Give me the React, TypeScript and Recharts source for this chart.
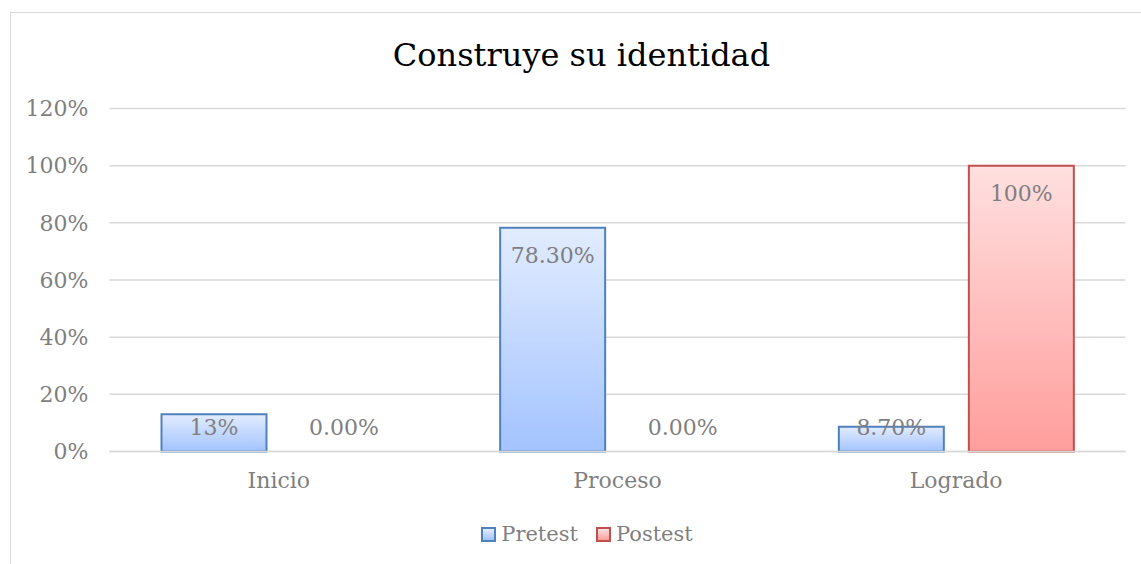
import React from 'react';
import { BarChart, Bar, XAxis, YAxis, CartesianGrid, LabelList, Rectangle } from 'recharts';

const categories = ['Inicio', 'Proceso', 'Logrado'];
const pretestValues = [0.13, 0.783, 0.087];
const postestValues = [0, 0, 1];
const pretestLabels = ['13%', '78.30%', '8.70%'];
const postestLabels = ['0.00%', '0.00%', '100%'];
const yTicks = [0, 0.2, 0.4, 0.6, 0.8, 1.0, 1.2];
const seriesNames = ['Pretest', 'Postest'];
const title = 'Construye su identidad';

const data = categories.map((c, i) => ({
  name: c,
  Pretest: pretestValues[i],
  Postest: postestValues[i],
  preLabel: pretestLabels[i],
  postLabel: postestLabels[i],
}));

const FONT = '"DejaVu Serif", "Liberation Serif", serif';
const GREY = '#7f7f7f';

const renderLabel = (props: any) => {
  const { x, y, width, height, value } = props;
  const h = Math.abs(Number(height));
  const top = Math.min(Number(y), Number(y) + Number(height));
  const base = top + h;
  const cy = Math.min(top + 28, base - 24);
  return (
    <text
      x={Number(x) + Number(width) / 2}
      y={cy}
      textAnchor="middle"
      dominantBaseline="central"
      fill={GREY}
      fontSize={22}
      fontFamily={FONT}
    >
      {value}
    </text>
  );
};

const makeShape = (key: string) => (props: any) => {
  const v = props.payload ? props.payload[key] : props.value;
  if (!v) return <g />;
  return <Rectangle {...props} />;
};

export default function App() {
  return (
    <div style={{ position: 'absolute', left: 0, top: 0, width: 1141, height: 564, background: '#fff', overflow: 'hidden' }}>
      <div style={{ position: 'absolute', left: 10, top: 12, width: 1200, height: 700, border: '1px solid #d9d9d9', boxSizing: 'border-box' }} />
      <div style={{ position: 'absolute', left: 0, top: 33, width: 1163, textAlign: 'center', fontFamily: FONT, fontSize: 32, color: '#000', lineHeight: '44px' }}>
        {title}
      </div>
      <div style={{ position: 'absolute', left: 0, top: 0 }}>
        <BarChart
          width={1141}
          height={564}
          data={data}
          margin={{ top: 108.5, right: 15.5, bottom: 72.5, left: 0 }}
          barSize={105}
          barGap={25}
        >
          <defs>
            <linearGradient id="gPre" x1="0" y1="0" x2="0" y2="1">
              <stop offset="0%" stopColor="#e2ecff" />
              <stop offset="100%" stopColor="#a3c3ff" />
            </linearGradient>
            <linearGradient id="gPost" x1="0" y1="0" x2="0" y2="1">
              <stop offset="0%" stopColor="#ffe0e0" />
              <stop offset="100%" stopColor="#ff9e9c" />
            </linearGradient>
          </defs>
          <CartesianGrid vertical={false} stroke="#d9d9d9" strokeWidth={1.5} />
          <XAxis
            dataKey="name"
            axisLine={{ stroke: '#d9d9d9', strokeWidth: 1.5 }}
            tickLine={false}
            tickSize={0}
            tickMargin={21}
            height={40}
            tick={{ fill: GREY, fontSize: 22, fontFamily: FONT }}
          />
          <YAxis
            domain={[0, 1.2]}
            ticks={yTicks}
            tickFormatter={(v: number) => `${Math.round(v * 100)}%`}
            axisLine={false}
            tickLine={false}
            tickSize={0}
            tickMargin={21}
            width={109.5}
            tick={{ fill: GREY, fontSize: 22, fontFamily: FONT }}
          />
          <Bar dataKey="Pretest" fill="url(#gPre)" stroke="#4f81bd" strokeWidth={2} minPointSize={1} shape={makeShape('Pretest')} isAnimationActive={false}>
            <LabelList dataKey="preLabel" content={renderLabel} />
          </Bar>
          <Bar dataKey="Postest" fill="url(#gPost)" stroke="#c0504d" strokeWidth={2} minPointSize={1} shape={makeShape('Postest')} isAnimationActive={false}>
            <LabelList dataKey="postLabel" content={renderLabel} />
          </Bar>
        </BarChart>
      </div>
      <div style={{ position: 'absolute', left: 0, top: 522, width: 1174, display: 'flex', justifyContent: 'center', alignItems: 'center', fontFamily: FONT, fontSize: 21, color: GREY }}>
        {seriesNames.map((s, i) => (
          <div key={s} style={{ display: 'flex', alignItems: 'center', marginRight: i === 0 ? 18 : 0 }}>
            <span
              style={{
                display: 'inline-block',
                width: 11,
                height: 11,
                border: `2px solid ${i === 0 ? '#4f81bd' : '#c0504d'}`,
                background: i === 0 ? 'linear-gradient(#e2ecff, #a3c3ff)' : 'linear-gradient(#ffe0e0, #ff9e9c)',
                marginRight: 5,
              }}
            />
            <span>{s}</span>
          </div>
        ))}
      </div>
    </div>
  );
}
